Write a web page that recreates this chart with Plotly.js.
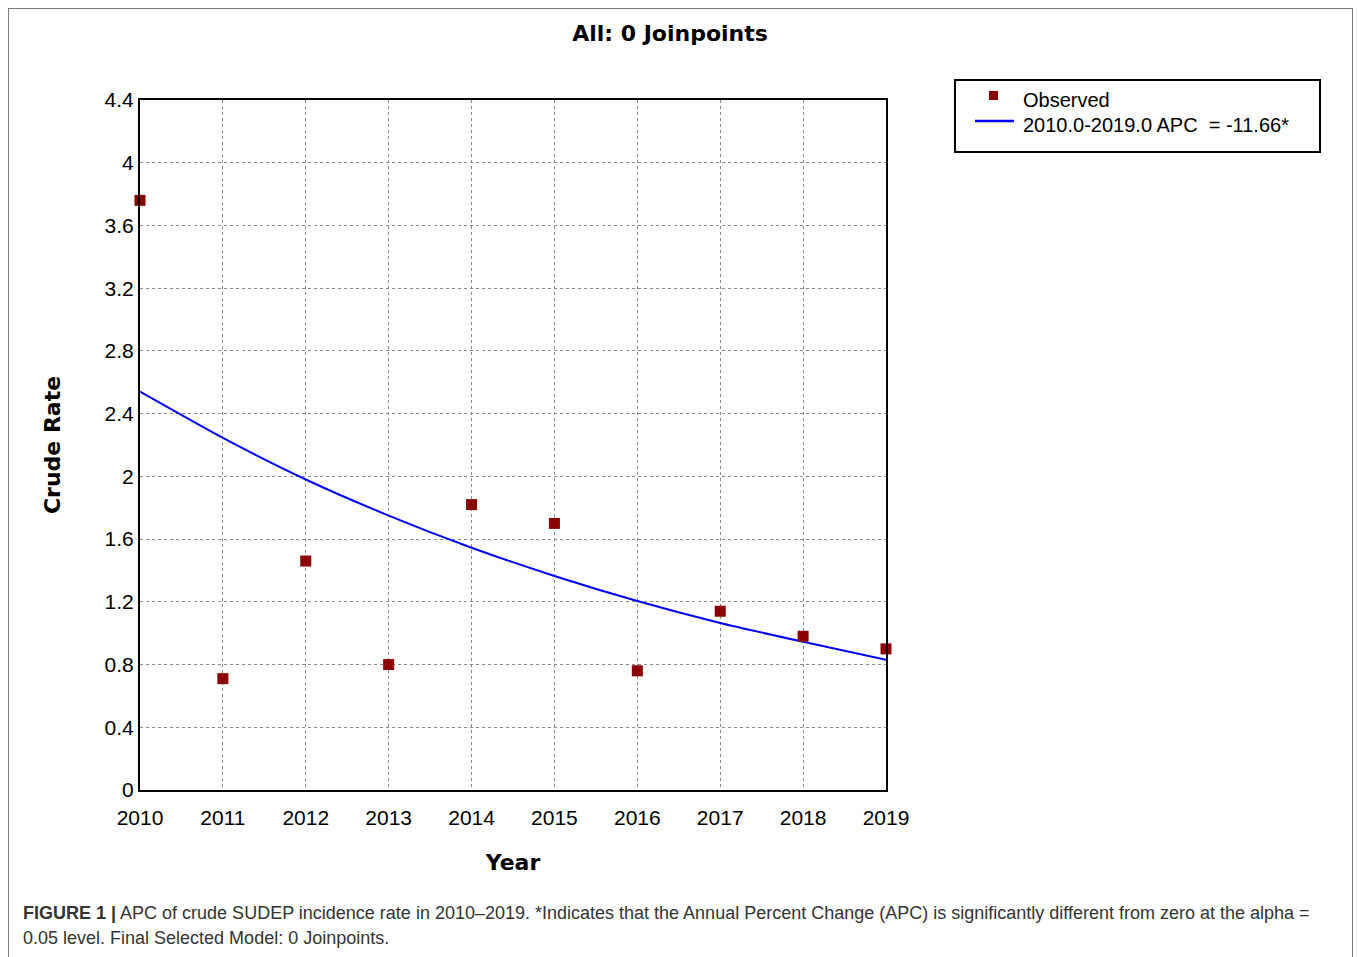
<!DOCTYPE html>
<html>
<head>
<meta charset="utf-8">
<script src="https://cdn.plot.ly/plotly-3.0.1.min.js"></script>
<style>
html,body{margin:0;padding:0;background:#fff;width:1358px;height:957px;overflow:hidden;}
#frame{position:absolute;left:8px;top:8px;width:1345px;height:980px;border:1.5px solid #7a7a7a;box-sizing:border-box;}
#chart{position:absolute;left:0;top:0;width:1358px;height:957px;}
</style>
</head>
<body>
<div id="frame"></div>
<div id="chart"></div>
<script>
const years = [2010, 2011, 2012, 2013, 2014, 2015, 2016, 2017, 2018, 2019];
const observed = [3.76, 0.71, 1.46, 0.80, 1.82, 1.70, 0.76, 1.14, 0.98, 0.90];
const fitted = [2.54, 2.245, 1.98, 1.75, 1.545, 1.365, 1.205, 1.065, 0.945, 0.83];
const yTicks = [0, 0.4, 0.8, 1.2, 1.6, 2, 2.4, 2.8, 3.2, 3.6, 4, 4.4];
const yTickLabels = ["0", "0.4", "0.8", "1.2", "1.6", "2", "2.4", "2.8", "3.2", "3.6", "4", "4.4"];
const legendLabels = ["Observed", "2010.0-2019.0 APC  = -11.66*"];
const chartTitle = "All: 0 Joinpoints";
const captionLine1 = "<b>FIGURE 1 |</b> APC of crude SUDEP incidence rate in 2010–2019. *Indicates that the Annual Percent Change (APC) is significantly different from zero at the alpha =";
const captionLine2 = "0.05 level. Final Selected Model: 0 Joinpoints.";

// pixel -> paper helpers (plot area: x 140..886, y 100..790)
const L = 140, R = 886, T = 100, B = 790;
const px = x => (x - L) / (R - L);
const py = y => (B - y) / (B - T);

const tickFont = {family: "Liberation Sans, Arial, sans-serif", size: 21, color: "#000"};

const traces = [
  {
    x: years, y: fitted, type: "scatter", mode: "lines",
    line: {color: "#0000ff", width: 2, shape: "spline", smoothing: 0.6},
    showlegend: false, cliponaxis: false, hoverinfo: "skip"
  },
  {
    x: years, y: observed, type: "scatter", mode: "markers",
    marker: {symbol: "square", size: 11, color: "#8b0000", line: {width: 0}},
    showlegend: false, cliponaxis: false
  }
];

const layout = {
  width: 1358, height: 957,
  margin: {l: L, r: 1358 - R, t: T, b: 957 - B, pad: 0},
  paper_bgcolor: "rgba(0,0,0,0)",
  plot_bgcolor: "#fff",
  showlegend: false,
  title: {
    text: "<b>" + chartTitle + "</b>",
    font: {family: "DejaVu Sans, Verdana, sans-serif", size: 22, color: "#000"},
    x: 670 / 1358, xanchor: "center", y: 1 - 33 / 957, yanchor: "middle"
  },
  xaxis: {
    range: [2010, 2019],
    tickmode: "array", tickvals: years, ticktext: years.map(String),
    showgrid: true, gridcolor: "#8a8a8a", gridwidth: 1, griddash: "dot",
    showline: true, linecolor: "#000", linewidth: 2, mirror: true,
    ticks: "outside", ticklen: 8, tickcolor: "rgba(0,0,0,0)",
    tickfont: tickFont, zeroline: false,
    title: {text: "<b>Year</b>", font: {family: "DejaVu Sans, Verdana, sans-serif", size: 22, color: "#000"}, standoff: 26}
  },
  yaxis: {
    range: [0, 4.4],
    tickmode: "array", tickvals: yTicks, ticktext: yTickLabels,
    showgrid: true, gridcolor: "#8a8a8a", gridwidth: 1, griddash: "dot",
    showline: true, linecolor: "#000", linewidth: 2, mirror: true,
    ticks: "", ticklen: 0,
    tickfont: tickFont, zeroline: false,
    title: {text: "<b>Crude Rate</b>", font: {family: "DejaVu Sans, Verdana, sans-serif", size: 22, color: "#000"}, standoff: 38}
  },
  shapes: [
    // legend box
    {type: "rect", xref: "paper", yref: "paper", x0: px(955), x1: px(1320), y0: py(152), y1: py(80),
     line: {color: "#000", width: 2}, fillcolor: "#fff"},
    // legend marker
    {type: "rect", xref: "paper", yref: "paper", x0: px(989), x1: px(998), y0: py(100), y1: py(91),
     line: {width: 0}, fillcolor: "#8b0000"},
    // legend line
    {type: "line", xref: "paper", yref: "paper", x0: px(975), x1: px(1014), y0: py(121), y1: py(121),
     line: {color: "#0000ff", width: 2.5}}
  ],
  annotations: [
    {xref: "paper", yref: "paper", x: px(1021), y: py(100), xanchor: "left", yanchor: "middle",
     text: legendLabels[0], showarrow: false,
     font: {family: "Liberation Sans, Arial, sans-serif", size: 20, color: "#000"}},
    {xref: "paper", yref: "paper", x: px(1021), y: py(125), xanchor: "left", yanchor: "middle",
     text: legendLabels[1], showarrow: false,
     font: {family: "Liberation Sans, Arial, sans-serif", size: 20, color: "#000"}},
    {xref: "paper", yref: "paper", x: px(21), y: py(913), xanchor: "left", yanchor: "middle",
     text: captionLine1, showarrow: false,
     font: {family: "Liberation Sans, Arial, sans-serif", size: 18, color: "#333"}},
    {xref: "paper", yref: "paper", x: px(21), y: py(938), xanchor: "left", yanchor: "middle",
     text: captionLine2, showarrow: false,
     font: {family: "Liberation Sans, Arial, sans-serif", size: 18, color: "#333"}}
  ]
};

Plotly.newPlot("chart", traces, layout, {displayModeBar: false, staticPlot: true});
</script>
</body>
</html>
